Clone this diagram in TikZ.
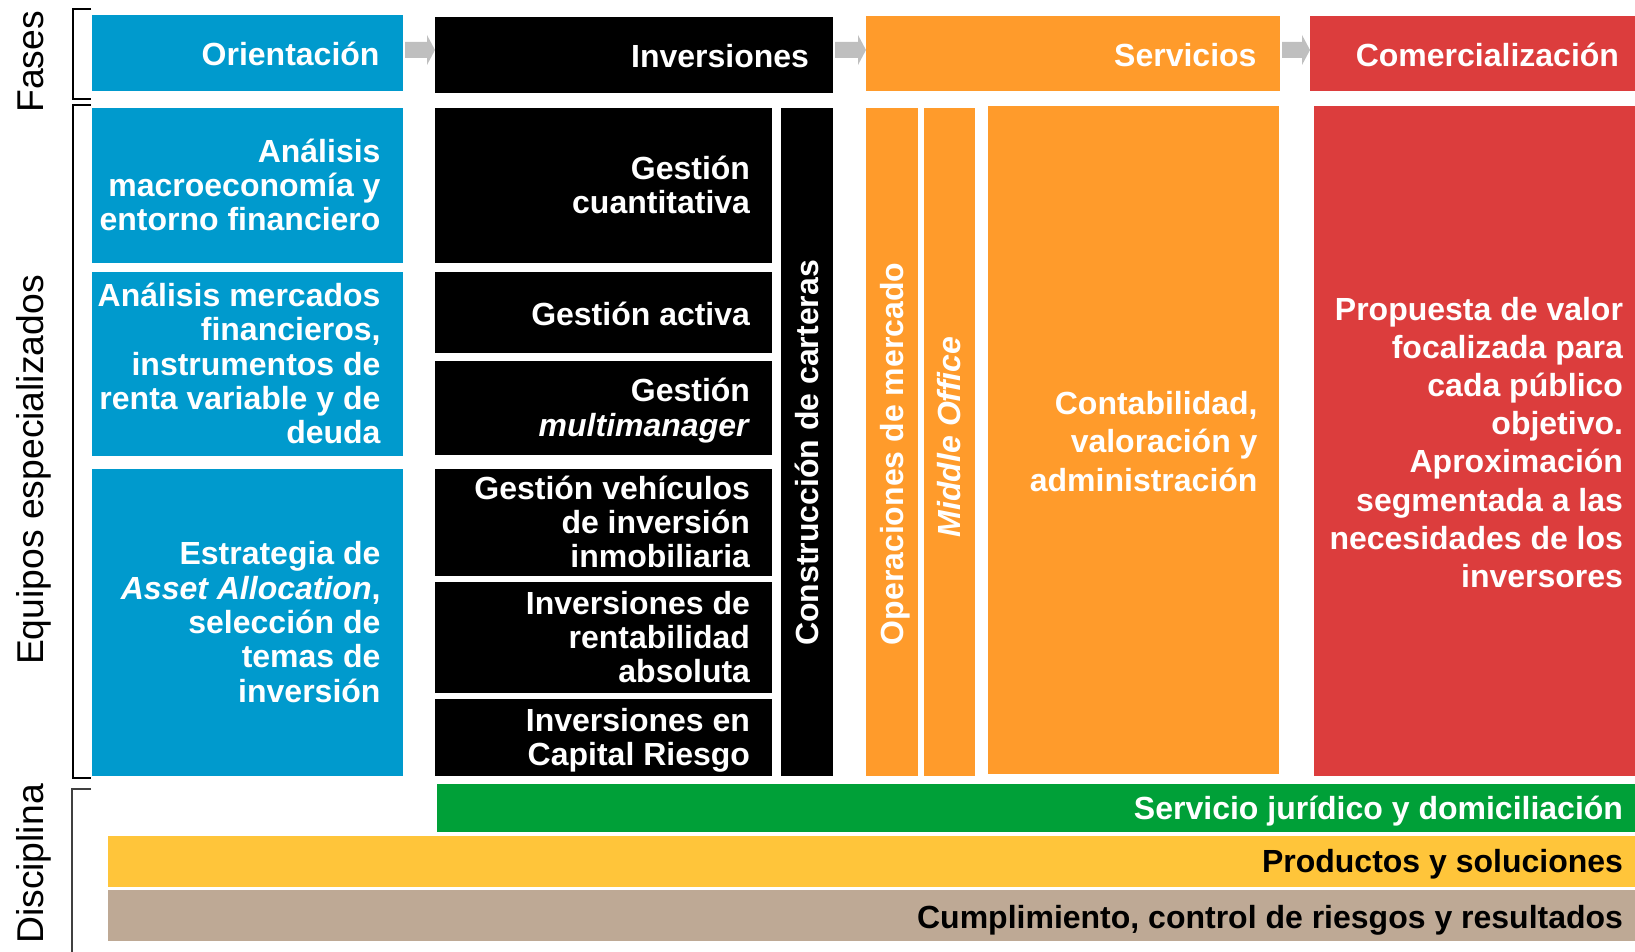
\documentclass[tikz,border=0pt]{standalone}
\usepackage{fontspec}
\setmainfont{Liberation Sans}
\usetikzlibrary{calc}
\definecolor{oblue}{HTML}{009ACD}
\definecolor{oorange}{HTML}{FF9B2B}
\definecolor{ored}{HTML}{DC3D3D}
\definecolor{ogreen}{HTML}{00A038}
\definecolor{oyellow}{HTML}{FFC53A}
\definecolor{otan}{HTML}{BEA995}
\definecolor{arrowgray}{HTML}{BFBFBF}
\newcommand\ps{\rule{0pt}{0.905em}}
\newcommand\pe{\rule[-0.212em]{0pt}{0pt}}
\newcommand\boxfont{\fontsize{32}{34.4}\selectfont\bfseries\lineskiplimit=-100pt\relax}
\newcommand\wboxfont{\fontsize{32}{38.2}\selectfont\bfseries\lineskiplimit=-100pt\relax}
\newcommand\mkpanel[6]{%
  \pgfmathsetmacro\pbW{#4-#2}%
  \pgfmathsetmacro\pbH{#5-#3}%
  \pgfmathsetmacro\pbX{(#2+#4)/2}%
  \pgfmathsetmacro\pbY{(#3+#5)/2}%
  \node[panel,#6,minimum width=\pbW pt,minimum height=\pbH pt] (#1) at (\pbX,\pbY) {};%
}
\newcommand\mkbox[9]{%
  \mkpanel{#1}{#2}{#3}{#4}{#5}{#6}%
  \node[paneltext,#8,anchor=east] (#1-t) at ([xshift=-#7pt]#1.east) {\ps #9\pe};%
}
\tikzset{
  panel/.style={rectangle, inner sep=0pt, outer sep=0pt, draw=none},
  paneltext/.style={inner sep=0pt, outer sep=0pt, align=right, text=white, font=\boxfont},
  low/.style={yshift=-1.8pt},
  sidelabel/.style={rotate=90, anchor=base, inner sep=0pt, font=\fontsize{37.3}{40}\selectfont},
  bracket/.style={line width=2pt, draw=black, line join=miter},
}
\begin{document}
\begin{tikzpicture}[x=1pt,y=-1pt]
\useasboundingbox (0,0) rectangle (1635,952);
% phases
\mkbox{ori}{92}{15}{403}{91}{fill=oblue}{23.5}{low}{Orientación}
\mkbox{inv}{435}{17}{833}{93}{fill=black}{24}{low}{Inversiones}
\mkbox{ser}{866}{16}{1280}{91}{fill=oorange}{23.5}{low}{Servicios}
\mkbox{com}{1310}{16}{1635}{91}{fill=ored}{16}{low}{Comercialización}
% arrows
\coordinate (ay) at (0,50);
\foreach \a/\b in {ori/inv, inv/ser, ser/com}{
  \fill[arrowgray] let \p1=([xshift=2pt]\a.east |- ay), \p2=(\b.west |- ay) in
    (\x1,\y1-8pt) -- (\x2-8pt,\y1-8pt) -- (\x2-8pt,\y1-15pt) -- (\x2,\y1)
    -- (\x2-8pt,\y1+15pt) -- (\x2-8pt,\y1+8pt) -- (\x1,\y1+8pt) -- cycle;
}
% blue column
\mkbox{b1}{92}{108}{403}{263}{fill=oblue}{22.5}{}{Análisis\\macroeconomía y\\entorno financiero}
\mkbox{b2}{92}{272}{403}{456}{fill=oblue}{22.5}{}{Análisis mercados\\financieros,\\instrumentos de\\renta variable y de\\deuda}
\mkbox{b3}{92}{469}{403}{776}{fill=oblue}{22.5}{}{Estrategia de\\\textit{Asset Allocation},\\selección de\\temas de\\inversión}
% black column
\mkbox{k1}{435}{108}{772}{263}{fill=black}{22}{}{Gestión\\cuantitativa}
\mkbox{k2}{435}{272}{772}{353}{fill=black}{22}{low}{Gestión activa}
\mkbox{k3}{435}{361}{772}{455}{fill=black}{22}{}{Gestión\\[1pt]\textit{multimanager}}
\mkbox{k4}{435}{469}{772}{576}{fill=black}{22}{}{Gestión vehículos\\de inversión\\inmobiliaria}
\mkbox{k5}{435}{582}{772}{693}{fill=black}{22}{}{Inversiones de\\rentabilidad\\absoluta}
\mkbox{k6}{435}{699}{772}{776}{fill=black}{22}{}{Inversiones en\\Capital Riesgo}
% vertical panels
\mkpanel{cc}{781}{108}{833}{776}{fill=black}
\node[paneltext, rotate=90] (cc-t) at (807,453) {\ps Construcción de carteras\pe};
\mkpanel{op}{866}{108}{918}{776}{fill=oorange}
\node[paneltext, rotate=90] (op-t) at (892,454) {\ps Operaciones de mercado\pe};
\mkpanel{mo}{924}{108}{975}{776}{fill=oorange}
\node[paneltext, rotate=90] (mo-t) at (949.5,437) {\ps\textit{Middle Office}\pe};
\mkbox{ct}{988}{106}{1279}{774}{fill=oorange}{21.5}{font=\wboxfont, low}{Contabilidad,\\valoración y\\administración}
\mkbox{rd}{1314}{106}{1635}{776}{fill=ored}{12}{font=\wboxfont, low}{Propuesta de valor\\focalizada para\\cada público\\objetivo.\\Aproximación\\segmentada a las\\necesidades de los\\inversores}
% bars
\mkbox{gr}{437}{784}{1635}{832}{fill=ogreen}{12}{}{Servicio jurídico y domiciliación}
\mkbox{ye}{108}{836}{1635}{887}{fill=oyellow}{12}{text=black}{Productos y soluciones}
\mkbox{tn}{108}{890}{1635}{941}{fill=otan}{12}{text=black, low}{Cumplimiento, control de riesgos y resultados}
% brackets and side labels
\draw[bracket] (91,9) -- (73,9) -- (73,99) -- (91,99);
\draw[bracket] (91,105) -- (73,105) -- (73,778) -- (91,778);
\draw[bracket, line width=1.5pt, draw=black!75] (91,789) -- (72,789) -- (72,952);
\node[sidelabel] (lf) at (43,62) {Fases};
\node[sidelabel] (le) at (43,470) {Equipos especializados};
\node[sidelabel] (ld) at (43,864) {Disciplina};
\end{tikzpicture}
\end{document}
